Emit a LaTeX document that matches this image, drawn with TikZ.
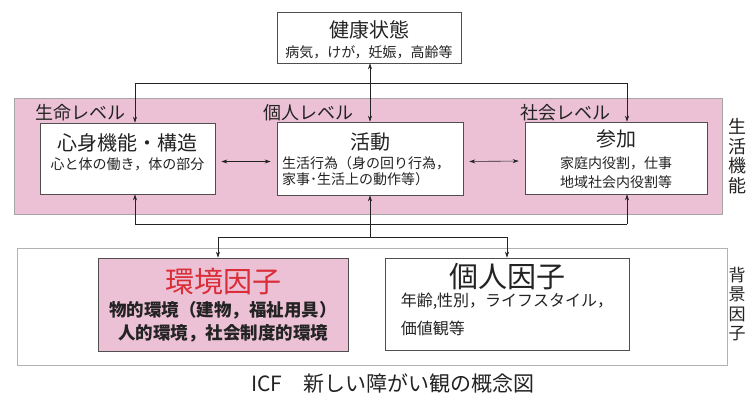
\documentclass[tikz,border=0pt]{standalone}
\usepackage{fontspec}
\setmainfont{Noto Sans CJK JP}
\usepackage{xcolor}
\usepackage{tikz}
\usetikzlibrary{arrows.meta,positioning}
\definecolor{bandpink}{RGB}{236,193,213}
\definecolor{envred}{RGB}{218,45,55}
\definecolor{ink}{RGB}{35,35,35}
\tikzstyle{block} = [rectangle, draw = ink!80, fill = white, line width = 0.6pt, inner sep = 0pt]
\tikzstyle{ttl} = [font = \fontsize{20}{24}\selectfont, text = ink, inner sep = 0pt]
\tikzstyle{sub} = [font = \fontsize{14}{17}\selectfont, text = ink, inner sep = 0pt, align = center]
\tikzstyle{lvl} = [font = \fontsize{18}{20}\selectfont, text = ink, inner sep = 0pt]
\tikzstyle{side} = [font = \fontsize{18}{19.5}\selectfont, text = ink, inner sep = 0pt, align = center]
\tikzstyle{wire} = [line width = 0.6pt, draw = ink]
\tikzstyle{line} = [wire, ->, >= {Stealth[length = 6pt, width = 4pt]}]

\begin{document}
\begin{tikzpicture}[x = 1pt, y = -1pt]
        \useasboundingbox (0,0) rectangle (749,399);
        % bands
        \draw[fill = bandpink, draw = gray!70, line width = 0.5pt] (14,98) rectangle (722,214);
        \draw[draw = gray!60, line width = 0.5pt] (17,248) rectangle (727,365);

        \node (health) [block, minimum width = 184pt, minimum height = 51pt] at (369,37.5) {};
        \node (healthttl) [ttl, above of = health, node distance = 7.5pt] {健康状態};
        \node (healthsub) [sub, below of = healthttl, node distance = 22pt] {病気，けが，妊娠，高齢等};

        \node (lvbody) [lvl] at (80,113) {生命レベル};
        \node (lvact) [lvl] at (308,113) {個人レベル};
        \node (lvpart) [lvl] at (565,113) {社会レベル};

        \node (body) [block, minimum width = 175pt, minimum height = 71pt] at (127.5,158.5) {};
        \node (bodyttl) [ttl, above of = body, node distance = 15.5pt] {心身機能・構造};
        \node (bodysub) [sub, below of = bodyttl, node distance = 21pt] {心と体の働き，体の部分};

        \node (act) [block, minimum width = 186pt, minimum height = 73pt] at (370,158.5) {};
        \node (actttl) [ttl, above of = act, node distance = 16.5pt] {活動};
        \node (actsub) [sub, align = left, font = \fontsize{14}{16}\selectfont, below of = actttl, node distance = 29pt, xshift = -4pt] {生活行為（身の回り行為，\\家事･生活上の動作等）};

        \node (part) [block, minimum width = 182pt, minimum height = 72pt] at (616,158) {};
        \node (partttl) [ttl, above of = part, node distance = 19pt] {参加};
        \node (partsub) [sub, font = \fontsize{14}{19}\selectfont, below of = partttl, node distance = 33.5pt] {家庭内役割，仕事\\地域社会内役割等};

        \node (sidelife) [side] at (737,156) {生\\活\\機\\能};

        \node (env) [block, fill = bandpink, minimum width = 250pt, minimum height = 93pt] at (223,304.5) {};
        \node (envttl) [ttl, text = envred, font = \fontsize{29}{32}\selectfont, above of = env, node distance = 22.5pt] {環境因子};
        \node (envsub) [sub, font = \bfseries\fontsize{17.5}{23}\selectfont, below of = envttl, node distance = 39.5pt] {物的環境（建物，福祉用具）\\人的環境，社会制度的環境};

        \node (pers) [block, minimum width = 244pt, minimum height = 92pt] at (507,304) {};
        \node (persttl) [ttl, font = \fontsize{29}{32}\selectfont, above of = pers, node distance = 27pt] {個人因子};
        \node (perssub) [sub, align = left, font = \fontsize{16}{28}\selectfont, below of = persttl, node distance = 37pt] {年齢,性別，ライフスタイル，\\価値観等};

        \node (sidebg) [side, font = \fontsize{17}{19.5}\selectfont] at (737,304) {背\\景\\因\\子};

        \node (caption) [text = ink, font = \fontsize{21}{24}\selectfont, inner sep = 0pt] at (393,383) {ICF　新しい障がい観の概念図};

        % top junction
        \coordinate (tl) at (135,83);
        \coordinate (tr) at (627,83);
        \draw[wire] (tl) -- (tr);
        \draw[line] (tl) -- (tl |- body.north);
        \draw[line] (tr) -- (tr |- part.north);
        \draw[line, <->] (act.north) -- (act.north |- health.south);

        \draw[line, <->, shorten > = 6pt, shorten < = 6pt] ([yshift = -3pt]body.east) -- ([yshift = -3pt]act.west);
        \draw[line, <->, shorten > = 6pt, shorten < = 6pt] ([yshift = -3pt]act.east) -- ([yshift = -3pt]part.west);

        % bottom junction
        \coordinate (bl) at (135,224);
        \coordinate (br) at (627,224);
        \coordinate (el) at (218,237);
        \coordinate (pr) at (507,237);
        \draw[wire] (bl) -- (br);
        \draw[line] (bl) -- (bl |- body.south);
        \draw[line] (br) -- (br |- part.south);
        \draw[line] (act.south |- el) -- (act.south);
        \draw[wire] (el) -- (pr);
        \draw[line] (el) -- (el |- env.north);
        \draw[line] (pr) -- (pr |- pers.north);
    \end{tikzpicture}
\end{document}
